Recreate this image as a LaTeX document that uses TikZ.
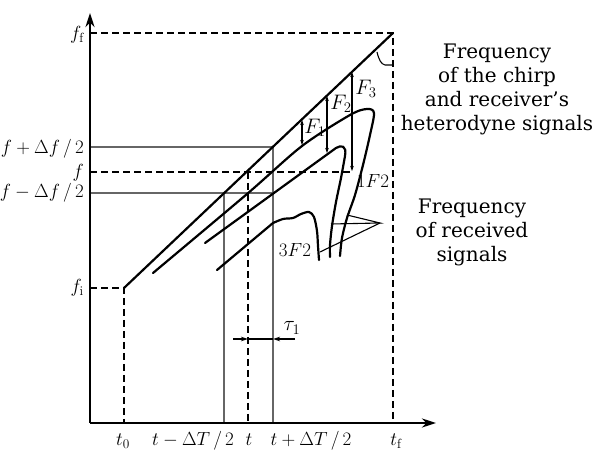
\RequirePackage{fix-cm}
\documentclass[tikz,border=0pt]{standalone}
\usepackage{fontspec}
\newfontfamily\txtfont{DejaVu Serif}
\usetikzlibrary{arrows.meta}
\begin{document}
\begin{tikzpicture}[x=1pt,y=-1pt,
  sig/.style={line width=2.2pt, line join=round, line cap=round},
  guide/.style={line width=1.5pt, black!60},
  dashguide/.style={line width=1.4pt, dash pattern=on 7pt off 4pt},
  axisline/.style={line width=2.8pt, -{Stealth[length=14pt,width=9pt]}},
  thin/.style={line width=1.1pt},
  farrow/.style={line width=1.2pt, {Stealth[length=5pt,width=3.5pt]}-{Stealth[length=5pt,width=3.5pt]}},
  lbl/.style={font=\fontsize{19}{22}\selectfont, inner sep=0pt},
  ilbl/.style={font=\fontsize{21}{24}\selectfont, inner sep=0pt},
  txt/.style={font=\txtfont\fontsize{20}{24}\selectfont, align=center, inner sep=0pt},
]
\useasboundingbox (0,0) rectangle (598,454);
% key points
\coordinate (O) at (90,423);
\coordinate (Ytop) at (90,13);
\coordinate (Xend) at (436,423);
\coordinate (A) at (124,288);
\coordinate (B) at (393,33);
\coordinate (Bax) at (393,423);
\coordinate (Aax) at (124,423);
% dashed guides
\draw[dashguide] (90,33) -- (B) -- (Bax);
\draw[dashguide] (90,288) -- (A) -- (Aax);
\draw[dashguide] (90,172) -- (353,172);
\draw[dashguide] (248,172) -- (248,423);
% gray guides
\draw[guide] (90,147) -- (273,147) -- (273,423);
\draw[guide] (90,193) -- (273,193);
\draw[guide] (224,193) -- (224,423);
% axes
\draw[axisline] (O) -- (Ytop);
\draw[axisline] (O) -- (Xend);
% chirp
\draw[sig] (A) -- (B);
% leader for chirp
\draw[thin] (377,52) .. controls (379,60) and (381,64) .. (385,65) -- (392,65);
% received signals
\draw[sig] plot[smooth, tension=0.5] coordinates {(153,273) (247,194) (302,146) (350,115) (367,109) (374,113) (370,135) (363,165) (355,195) (347,218) (342,238) (340,256)};
\draw[sig] (205,243) -- (336,148) .. controls (341,145) and (347,145) .. (345,156)
  plot[smooth, tension=0.5] coordinates {(345,156) (341,178) (336,202) (332,226) (330,245) (330,257)};
\draw[sig] (217,270) -- (273,223)
  plot[smooth, tension=0.5] coordinates {(273,223) (283,219) (293,218) (301,214) (309,212) (314,217) (317,231) (318,246) (319,260)};
% fan leader
\coordinate (apex) at (380,223);
\draw[thin] (347,215) -- (apex) -- (331,224);
\draw[thin] (apex) -- (320,252);
% F arrows
\draw[farrow] (302,120) -- (302,145);
\draw[farrow] (327,96) -- (327,153);
\draw[farrow] (352,72) -- (352,171);
% tau arrows
\draw[thin] (248,339) -- (273,339);
\draw[thin, -{Stealth[length=7pt,width=4.5pt]}] (233,339) -- (248,339);
\draw[thin, -{Stealth[length=7pt,width=4.5pt]}] (295,339) -- (273,339);
% labels left
\node[lbl, anchor=base east] (lff) at (84,40) {$f_{\mathrm{f}}$};
\node[lbl, anchor=base east] (lfp) at (84,154) {$f+\Delta f\,/\,2$};
\node[lbl, anchor=base east] (lf) at (84,178) {$f$};
\node[lbl, anchor=base east] (lfm) at (84,198) {$f-\Delta f\,/\,2$};
\node[lbl, anchor=base east] (lfi) at (84,293) {$f_{\mathrm{i}}$};
% labels bottom
\node[lbl, anchor=base] (lt0) at (123,446) {$t_0$};
\node[lbl, anchor=base] (ltm) at (193,446) {$t-\Delta T\,/\,2$};
\node[lbl, anchor=base] (lt) at (249,446) {$t$};
\node[lbl, anchor=base] (ltp) at (311,446) {$t+\Delta T\,/\,2$};
\node[lbl, anchor=base] (ltf) at (396,446) {$t_{\mathrm{f}}$};
% inner labels
\node[ilbl] (lF1) at (315,128) {$F_1$};
\node[ilbl] (lF2) at (341,104) {$F_2$};
\node[ilbl] (lF3) at (366,89) {$F_3$};
\node[lbl] (l1F2) at (373,181) {$1F2$};
\node[lbl] (l3F2) at (295,250) {$3F2$};
\node[ilbl] (ltau) at (292,328) {$\tau_1$};
% texts
\node[txt] (tchirp) at (497,89) {Frequency\\of the chirp\\and receiver’s\\heterodyne signals};
\node[txt] (trecv) at (472,232) {Frequency\\of received\\signals};
\end{tikzpicture}
\end{document}
